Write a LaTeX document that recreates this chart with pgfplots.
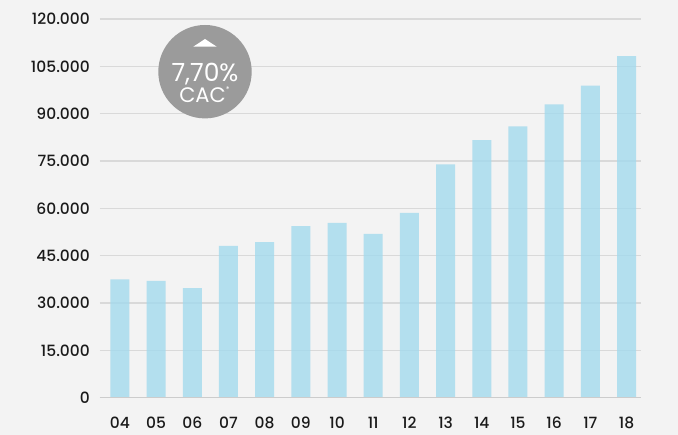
\documentclass[border=0pt]{standalone}
\usepackage{pgfplots}
\pgfplotsset{compat=1.18}
\usepackage{fontspec}
\setmainfont{Poppins}
\newfontfamily\medfont{Poppins Medium}
\definecolor{bg}{HTML}{F3F3F3}
\definecolor{barc}{RGB}{163,218,237}
\definecolor{gridc}{HTML}{D9D9D9}
\definecolor{zeroc}{HTML}{CCCCCC}
\definecolor{badge}{HTML}{9B9B9B}
\definecolor{txt}{HTML}{1A1A1A}
\begin{document}
\begin{tikzpicture}
\fill[bg] (-100pt,-37.3pt) rectangle (578pt,397.7pt);
\begin{axis}[
  at={(0pt,0pt)}, anchor=south west,
  scale only axis, width=541pt, height=378.7pt,
  xmin=-0.55, xmax=14.4, ymin=0, ymax=120000,
  axis line style={draw=none},
  major tick length=0pt,
  ytick={0,15000,30000,45000,60000,75000,90000,105000,120000},
  yticklabels={0,15.000,30.000,45.000,60.000,75.000,90.000,105.000,120.000},
  xtick={0,...,14},
  xticklabels={04,05,06,07,08,09,10,11,12,13,14,15,16,17,18},
  scaled y ticks=false,
  ymajorgrids, grid style={gridc, line width=1.3pt},
  yticklabel style={font=\medfont\fontsize{15.5}{18}\selectfont, text=txt, inner sep=0pt, anchor=east, xshift=-10pt},
  xticklabel style={font=\medfont\fontsize{15.5}{18}\selectfont, text=txt, inner sep=0pt, anchor=north, yshift=-19.3pt},
  clip=false,
]
\addplot[ybar, bar width=19pt, fill=barc, fill opacity=0.8, draw=none] coordinates {
(0,37500) (1,37000) (2,34700) (3,48100) (4,49300) (5,54400) (6,55400) (7,51900)
(8,58600) (9,73900) (10,81600) (11,86000) (12,92950) (13,98900) (14,108200)};
\draw[zeroc, line width=1.3pt] (axis cs:-0.55,0) -- (axis cs:14.4,0);
\end{axis}
\fill[badge] (105pt,326pt) circle[radius=46.7pt];
\fill[white] (105pt,358.7pt) -- (93.3pt,351pt) -- (116.7pt,351pt) -- cycle;
\node[white, inner sep=0pt, anchor=base, text depth=0pt, font=\fontsize{25}{28}\selectfont] at (105pt,316pt) {7,70\%};
\node[white, inner sep=0pt, anchor=base, text height=15pt, font=\fontsize{21}{24}\selectfont] at (104.5pt,295pt) {CAC\raisebox{0.5em}{\fontsize{8}{8}\selectfont *}};
\end{tikzpicture}
\end{document}
